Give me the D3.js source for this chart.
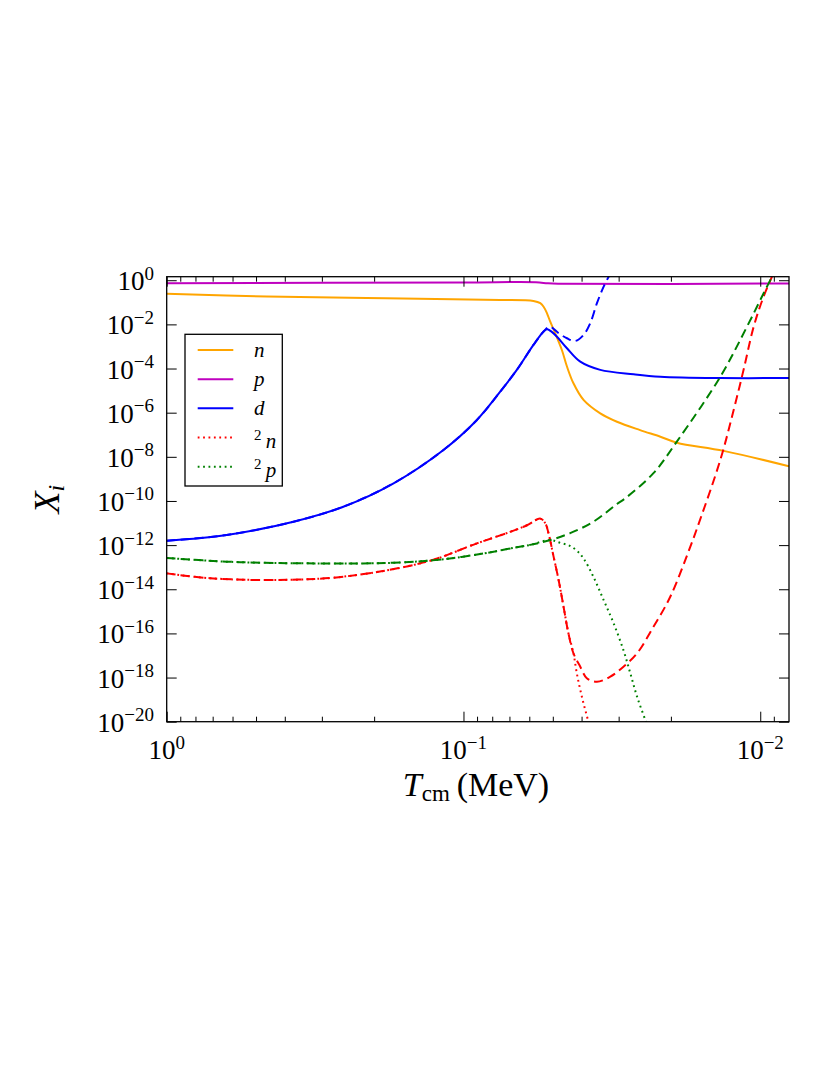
<!DOCTYPE html>
<html>
<head>
<meta charset="utf-8">
<script src="https://cdn.jsdelivr.net/npm/d3@7"></script>
<style>
  body { margin: 0; background: #fff; }
</style>
</head>
<body>
<svg width="830" height="1075"></svg>
<script>
// temperatures T_cm (MeV) and log10 of the abundance X_i
const nT = [1, 0.46, 0.212, 0.109, 0.0752, 0.0581, 0.0551, 0.0537, 0.0523, 0.051, 0.0491, 0.0466, 0.0448, 0.0426, 0.0394, 0.0346, 0.0304, 0.0254, 0.0217, 0.0191, 0.01328, 0.008];
const nLog = [-0.61, -0.74, -0.80, -0.86, -0.89, -0.94, -1.04, -1.20, -1.50, -1.88, -2.40, -3.16, -3.91, -4.67, -5.42, -6.03, -6.41, -6.79, -7.09, -7.36, -7.73, -8.43];

const pT = [1, 0.1, 0.057, 0.052, 0.048, 0.008];
const pLog = [-0.14, -0.10, -0.09, -0.14, -0.16, -0.15];

const dT = [1, 0.628, 0.374, 0.254, 0.172, 0.1168, 0.0901, 0.0752, 0.0661, 0.0581, 0.0535, 0.0522, 0.0505, 0.0484, 0.0448, 0.0404, 0.0346, 0.0267, 0.0217, 0.01363, 0.008];
const dLog = [-11.80, -11.54, -10.94, -10.26, -9.20, -7.69, -6.33, -5.05, -4.06, -2.93, -2.30, -2.22, -2.33, -2.56, -3.08, -3.69, -4.06, -4.26, -4.37, -4.43, -4.43];

// dashed branch of d
const dDashT = [1, 0.628, 0.374, 0.254, 0.172, 0.1168, 0.0901, 0.0752, 0.0661, 0.0581, 0.0535, 0.0512, 0.0478, 0.0448, 0.042, 0.0394, 0.0374, 0.0355, 0.0337, 0.032];
const dDashLog = [-11.80, -11.54, -10.94, -10.26, -9.20, -7.69, -6.33, -5.05, -4.06, -2.93, -2.30, -2.10, -2.40, -2.63, -2.75, -2.48, -1.95, -1.04, -0.29, 0.30];

// dineutron (2n), dotted and dashed branches
const nnT = [1, 0.7145, 0.4258, 0.2538, 0.1329, 0.0901, 0.0696, 0.0611, 0.0551, 0.053, 0.0517, 0.0497, 0.0478, 0.046, 0.0443, 0.0426, 0.0415, 0.0399, 0.0379, 0.037];
const nnLog = [-13.28, -13.50, -13.58, -13.43, -12.75, -11.92, -11.40, -11.10, -10.80, -11.01, -11.46, -12.52, -13.58, -14.79, -15.99, -16.90, -17.81, -18.87, -20.0, -20.4];

const nnDashT = [1, 0.7145, 0.4258, 0.2538, 0.1329, 0.0901, 0.0696, 0.0611, 0.0551, 0.053, 0.0517, 0.0497, 0.0478, 0.046, 0.0443, 0.0426, 0.0404, 0.0384, 0.0355, 0.032, 0.0289, 0.026, 0.0229, 0.0201, 0.0172, 0.01633, 0.01363, 0.01229, 0.01138, 0.01052, 0.00974, 0.0089];
const nnDashLog = [-13.28, -13.50, -13.58, -13.43, -12.75, -11.92, -11.40, -11.10, -10.80, -11.01, -11.46, -12.52, -13.58, -14.79, -15.99, -16.90, -17.51, -18.03, -18.19, -17.96, -17.51, -16.90, -15.70, -14.34, -12.07, -11.24, -8.14, -5.88, -4.06, -2.10, -0.74, 0.5];

// diproton (2p), dotted and dashed branches
const ppT = [1, 0.628, 0.374, 0.172, 0.1168, 0.0792, 0.0696, 0.0596, 0.051, 0.0472, 0.044, 0.0415, 0.0394, 0.0365, 0.0337, 0.0312, 0.0289, 0.0274, 0.026, 0.0244, 0.024];
const ppLog = [-12.58, -12.75, -12.82, -12.80, -12.64, -12.30, -12.15, -11.99, -11.77, -11.90, -12.02, -12.25, -12.60, -13.43, -14.49, -15.54, -16.76, -17.81, -18.87, -19.92, -20.2];

const ppDashT = [1, 0.628, 0.374, 0.172, 0.1168, 0.0792, 0.0696, 0.0596, 0.051, 0.0437, 0.0365, 0.0304, 0.0285, 0.0229, 0.0191, 0.01363, 0.01108, 0.00974, 0.0089];
const ppDashLog = [-12.58, -12.75, -12.82, -12.80, -12.64, -12.30, -12.15, -11.99, -11.77, -11.46, -10.94, -10.14, -9.88, -8.74, -7.31, -4.37, -2.10, -0.59, 0.45];

// tick values
const xMajor = [1, 0.1, 0.01];
const xMinor = [0.9, 0.8, 0.7, 0.6, 0.5, 0.4, 0.3, 0.2, 0.09, 0.08, 0.07, 0.06, 0.05, 0.04, 0.03, 0.02, 0.009];
const yExp = [0, -2, -4, -6, -8, -10, -12, -14, -16, -18, -20];

const legendLabels = ["n", "p", "d", "2n", "2p"];

const DOTTED = "1.8,3.6";
const DASHED = "9,5";
const SERIF = "'Liberation Serif', 'Times New Roman', Tinos, 'DejaVu Serif', 'Noto Serif', serif";

const series = [
  {T: nT, lg: nLog, color: "#ffa500", dash: null},
  {T: pT, lg: pLog, color: "#bf00bf", dash: null},
  {T: dDashT, lg: dDashLog, color: "#0000ff", dash: DASHED},
  {T: dT, lg: dLog, color: "#0000ff", dash: null},
  {T: nnDashT, lg: nnDashLog, color: "#ff0000", dash: DASHED},
  {T: nnT, lg: nnLog, color: "#ff0000", dash: DOTTED},
  {T: ppDashT, lg: ppDashLog, color: "#008000", dash: DASHED},
  {T: ppT, lg: ppLog, color: "#008000", dash: DOTTED}
];

const legendItems = [
  {color: "#ffa500", dash: null},
  {color: "#bf00bf", dash: null},
  {color: "#0000ff", dash: null},
  {color: "#ff0000", dash: DOTTED},
  {color: "#008000", dash: DOTTED}
];

const plotLeft = 166.7, plotRight = 789, plotTop = 276.7, plotBottom = 721.7;

const svg = d3.select("svg")
  .style("font-family", SERIF);

const x = d3.scaleLog().domain([1, 0.008]).range([plotLeft, plotRight]);
const y = d3.scaleLog().domain([1e-20, Math.pow(10, 0.16)]).range([plotBottom, plotTop]);

// clip the curves to the axes box
svg.append("defs").append("clipPath").attr("id", "plot-clip")
  .append("rect")
  .attr("x", plotLeft).attr("y", plotTop)
  .attr("width", plotRight - plotLeft).attr("height", plotBottom - plotTop);

const line = d3.line()
  .x(d => x(d[0]))
  .y(d => y(Math.pow(10, d[1])))
  .curve(d3.curveCatmullRom.alpha(0.5));

const curves = svg.append("g").attr("clip-path", "url(#plot-clip)");

series.forEach(s => {
  curves.append("path")
    .datum(s.T.map((t, i) => [t, s.lg[i]]))
    .attr("d", line)
    .attr("fill", "none")
    .attr("stroke", s.color)
    .attr("stroke-width", 2)
    .attr("stroke-dasharray", s.dash);
});

// ticks point inward on all four sides
function styleAxis(g) {
  g.select(".domain").remove();
  g.selectAll(".tick line").attr("stroke", "#000").attr("stroke-width", 1);
}

const xTicks = [
  {vals: xMajor, size: 10},
  {vals: xMinor, size: 5}
];
xTicks.forEach(t => {
  svg.append("g").attr("transform", `translate(0,${plotBottom})`)
    .call(d3.axisBottom(x).tickValues(t.vals).tickSize(-t.size).tickFormat(""))
    .call(styleAxis);
  svg.append("g").attr("transform", `translate(0,${plotTop})`)
    .call(d3.axisTop(x).tickValues(t.vals).tickSize(-t.size).tickFormat(""))
    .call(styleAxis);
});

const yVals = yExp.map(e => Math.pow(10, e));
svg.append("g").attr("transform", `translate(${plotLeft},0)`)
  .call(d3.axisLeft(y).tickValues(yVals).tickSize(-10).tickFormat(""))
  .call(styleAxis);
svg.append("g").attr("transform", `translate(${plotRight},0)`)
  .call(d3.axisRight(y).tickValues(yVals).tickSize(-10).tickFormat(""))
  .call(styleAxis);

// frame
svg.append("rect")
  .attr("x", plotLeft).attr("y", plotTop)
  .attr("width", plotRight - plotLeft).attr("height", plotBottom - plotTop)
  .attr("fill", "none").attr("stroke", "#000").attr("stroke-width", 1.3);

// text helper: every label carries the serif family itself
function addText(parent) {
  return parent.append("text")
    .attr("font-family", SERIF)
    .attr("fill", "#000");
}

// power-of-ten label
function powLabel(sel, e) {
  sel.append("tspan").text("10");
  sel.append("tspan")
    .attr("dy", -10.5)
    .attr("font-size", 19)
    .text(e === 0 ? "0" : "\u2212" + Math.abs(e));
}

xMajor.forEach(v => {
  const t = addText(svg)
    .attr("x", x(v)).attr("y", 759)
    .attr("text-anchor", "middle")
    .attr("font-size", 27);
  powLabel(t, Math.round(Math.log10(v)));
});

yExp.forEach(e => {
  const t = addText(svg)
    .attr("x", 154).attr("y", y(Math.pow(10, e)) + 10)
    .attr("text-anchor", "end")
    .attr("font-size", 27);
  powLabel(t, e);
});

// axis titles
const xt = addText(svg)
  .attr("x", 476).attr("y", 796)
  .attr("text-anchor", "middle")
  .attr("font-size", 34);
xt.append("tspan").attr("font-style", "italic").text("T");
xt.append("tspan").attr("font-size", 23).attr("dy", 5).text("cm");
xt.append("tspan").attr("dy", -5).text("\u2009(MeV)");

const yt = addText(svg)
  .attr("transform", `translate(59,${(plotTop + plotBottom) / 2}) rotate(-90)`)
  .attr("text-anchor", "middle")
  .attr("font-size", 36);
yt.append("tspan").attr("font-style", "italic").text("X");
yt.append("tspan").attr("font-style", "italic").attr("font-size", 24).attr("dy", 5).text("i");

// legend
const lg = svg.append("g");
lg.append("rect")
  .attr("x", 185).attr("y", 334.3)
  .attr("width", 97.3).attr("height", 151.7)
  .attr("fill", "#fff").attr("stroke", "#000").attr("stroke-width", 1.3);

const rowY = d3.scalePoint().domain(legendLabels).range([350, 466.7]);

legendLabels.forEach((label, i) => {
  const yy = rowY(label);
  lg.append("line")
    .attr("x1", 197.7).attr("x2", 233.3)
    .attr("y1", yy).attr("y2", yy)
    .attr("stroke", legendItems[i].color)
    .attr("stroke-width", 2)
    .attr("stroke-dasharray", legendItems[i].dash);
  const t = addText(lg)
    .attr("x", 254)
    .attr("font-size", 21)
    .attr("font-style", "italic");
  if (label.length === 2) {
    t.attr("y", yy + 10);
    t.append("tspan").attr("font-style", "normal").attr("font-size", 15).attr("dy", -8).text(label[0]);
    t.append("tspan").attr("dy", 8).text("\u2009" + label[1]);
  } else {
    t.attr("y", yy + 7).text(label);
  }
});
</script>
</body>
</html>
